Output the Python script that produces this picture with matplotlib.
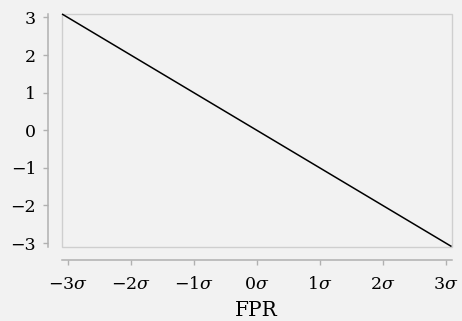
import numpy as np
import matplotlib
matplotlib.use("Agg")
import matplotlib.pyplot as plt
from matplotlib.patches import Rectangle

# Data: DET-style diagonal in normal-deviate units (probit of 0.001..0.999)
x_vals = [-3.09, 3.09]
y_vals = [3.09, -3.09]
x_ticks = [-3, -2, -1, 0, 1, 2, 3]
x_tick_labels = ["\u22123$\\sigma$", "\u22122$\\sigma$", "\u22121$\\sigma$", "0$\\sigma$",
                 "1$\\sigma$", "2$\\sigma$", "3$\\sigma$"]
y_ticks = [-3, -2, -1, 0, 1, 2, 3]
y_tick_labels = ["\u22123", "\u22122", "\u22121", "0", "1", "2", "3"]
x_label = "FPR"

plt.rcParams["font.family"] = ["DejaVu Serif"]
plt.rcParams["mathtext.fontset"] = "dejavuserif"

bg = "#f2f2f2"
fig = plt.figure(figsize=(4.62, 3.21), dpi=100, facecolor=bg)
ax = fig.add_axes([62 / 462, 1 - 246.5 / 321, 389.5 / 462, 232.5 / 321])
ax.set_facecolor(bg)

ax.plot(x_vals, y_vals, color="black", lw=1.1, solid_capstyle="butt", clip_on=False)
ax.set_xlim(-3.09, 3.09)
ax.set_ylim(-3.09, 3.09)

# frame
ax.add_patch(Rectangle((0, 0), 1, 1, transform=ax.transAxes, fill=False,
                       edgecolor="#cfcfcf", lw=1.0, zorder=0.5, clip_on=False))

for s in ["top", "right"]:
    ax.spines[s].set_visible(False)
for s in ["left", "bottom"]:
    ax.spines[s].set_position(("outward", 10))
    ax.spines[s].set_color("#b0b0b0")
    ax.spines[s].set_linewidth(1.1)

ax.set_xticks(x_ticks)
ax.set_xticklabels(x_tick_labels)
ax.set_yticks(y_ticks)
ax.set_yticklabels(y_tick_labels)
ax.tick_params(axis="both", colors="#b0b0b0", length=3.6, width=1.0,
               labelcolor="black", labelsize=12.5)
ax.tick_params(axis="y", pad=5)
ax.tick_params(axis="x", pad=7.5)
ax.set_xlabel(x_label, fontsize=14.5, labelpad=6)

fig.savefig("out.png", dpi=100, facecolor=bg)
